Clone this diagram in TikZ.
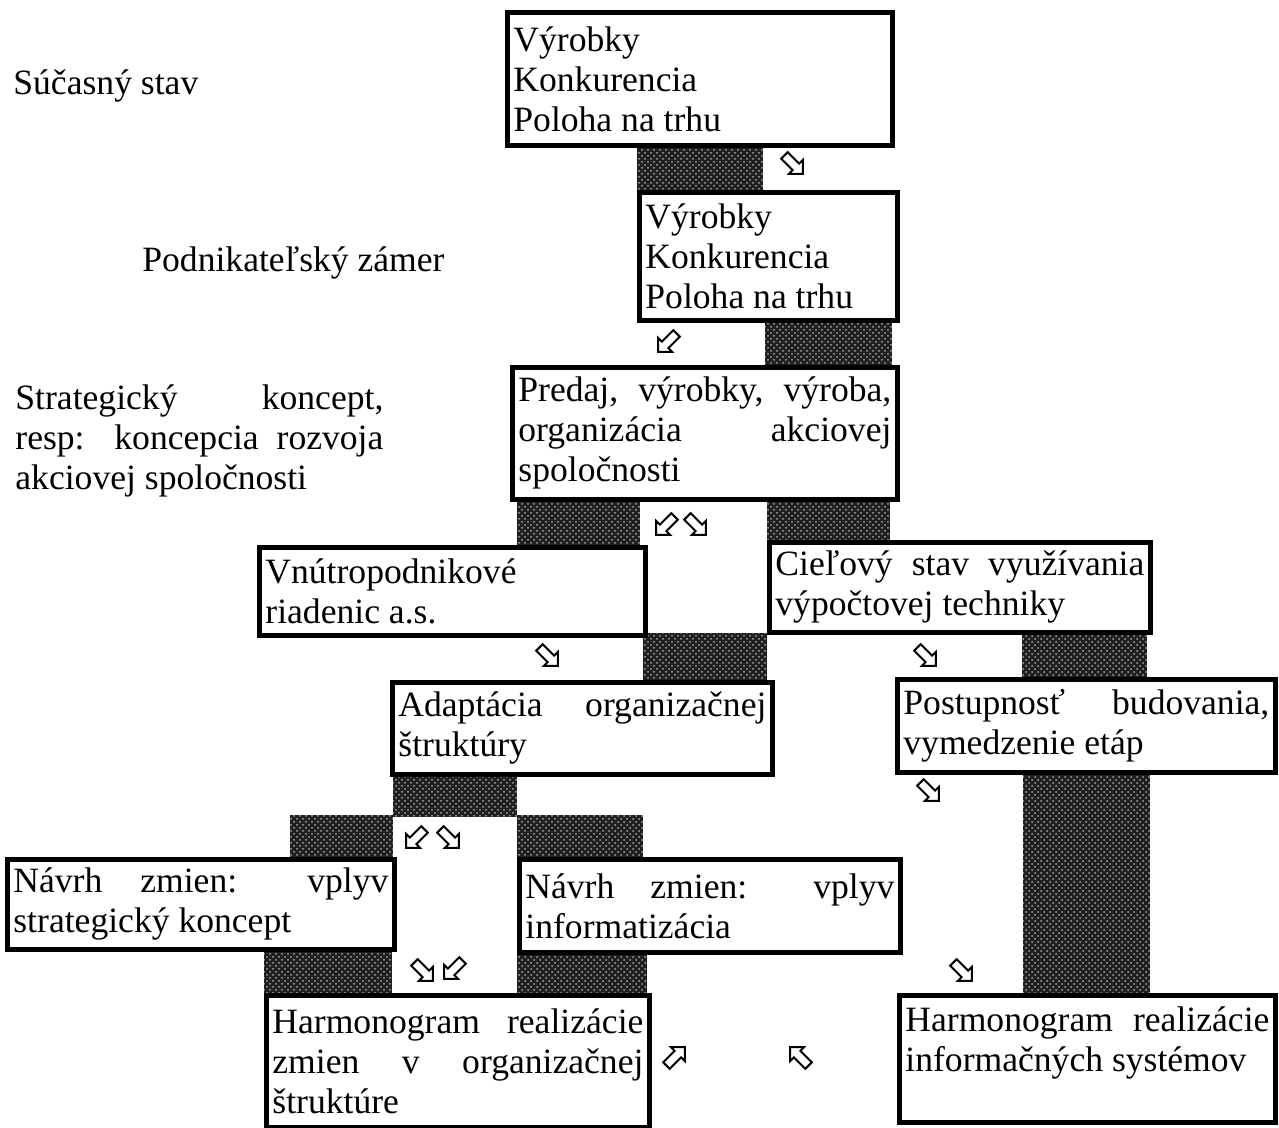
\documentclass[tikz,border=0pt]{standalone}
\usepackage{fontspec}
\setmainfont{Liberation Serif}
\usetikzlibrary{shapes.arrows}
\usetikzlibrary{patterns}

\tikzset{
	blok/.style={draw, line width=2.4pt, fill=white, anchor=north west, align=justify, inner xsep=3pt, inner ysep=0pt},
	tien/.style={fill=black!88, postaction={pattern=crosshatch dots, pattern color=white!65!black}},
	sipka/.style={single arrow, draw, fill=white, line width=1pt, inner sep=1.8pt, minimum height=13pt, single arrow head extend=2.6pt},
	popis/.style={inner sep=0pt}
}

\begin{document}
\begin{tikzpicture}[x=0.5pt, y=-0.5pt, font=\fontsize{17.8}{20}\selectfont]
				\useasboundingbox (0,0) rectangle (1279,1128);
				
				% Shaded links between the boxes
				\foreach \xa/\ya/\xb/\yb in {637/143/763/192, 765/318/892/367, 517/497/640/547, 767/497/890/542,
					643/633/767/682, 1022/630/1147/679, 393/772/517/817, 290/815/393/859, 517/815/643/859,
					264/947/392/995, 517/950/647/995, 1023/770/1150/995} {
					\fill[tien] (\xa,\ya) rectangle (\xb,\yb);
				}
				
				% Boxes
				\node[blok, text width=186.5pt, minimum height=66.5pt] (sucas) at (505,10) {Výrobky\\Konkurencia\\Poloha na trhu};
				\node[blok, text width=123pt, minimum height=64pt] (zamer) at (637,190) {Výrobky\\Konkurencia\\Poloha na trhu};
				\node[blok, text width=186.5pt, minimum height=66pt] (koncept) at (510,365) {Predaj, výrobky, výroba,\linebreak organizácia akciovej\linebreak spoločnosti};
				\node[blok, text width=187pt, minimum height=44pt] (riadenie) at (257,545) {Vnútropodnikové\\riadenic a.s.};
				\node[blok, text width=184.5pt, minimum height=45pt] (cielovy) at (767,540) {Cieľový stav využívania\linebreak výpočtovej techniky};
				\node[blok, text width=184pt, minimum height=46pt] (adaptacia) at (390,680) {Adaptácia organizačnej\linebreak štruktúry};
				\node[blok, text width=183pt, minimum height=46.5pt] (postup) at (895,677) {Postupnosť budovania,\linebreak vymedzenie etáp};
				\node[blok, text width=187.5pt, minimum height=45pt] (navrhA) at (5,857) {Návrh zmien: vplyv\linebreak strategický koncept};
				\node[blok, text width=184.5pt, minimum height=46.5pt] (navrhB) at (517,857) {Návrh zmien: vplyv\linebreak informatizácia};
				\node[blok, text width=185.5pt, minimum height=66pt] (harmA) at (264,993) {Harmonogram realizácie\linebreak zmien v organizačnej\linebreak štruktúre};
				\node[blok, text width=182pt, minimum height=63.5pt] (harmB) at (897,993) {Harmonogram realizácie\linebreak informačných systémov\\\mbox{}};
				
				% Labels on the left
				\node[popis, anchor=base west] (lsucas) at (13,95) {Súčasný stav};
				\node[popis, anchor=base west] (lzamer) at (142,272) {Podnikateľský zámer};
				\node[popis, anchor=north west, text width=184pt, align=justify] (lkoncept) at (15,384) {Strategický koncept,\linebreak resp: koncepcia rozvoja\linebreak akciovej spoločnosti};
				
				% Small arrows
				\foreach \x/\y/\a [count=\n] in {792/163/-45, 669/341/-135, 667/524/-135, 695/524/-45,
					547/655/-45, 925/655/-45, 417/837/-135, 448/837/-45, 928/790/-45,
					422/970/-45, 455/968/-135, 961/970/-45, 674/1058/45, 801/1058/135} {
					\node[sipka, rotate=\a] (sip\n) at (\x,\y) {};
				}
			\end{tikzpicture}
\end{document}
